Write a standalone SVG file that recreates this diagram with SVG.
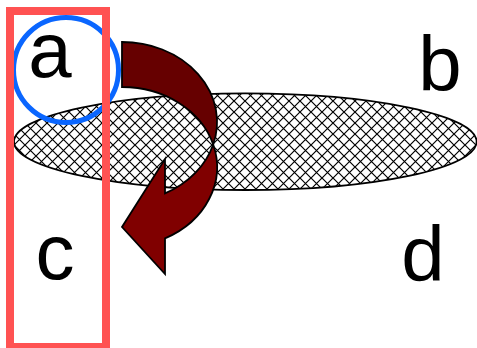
<svg xmlns="http://www.w3.org/2000/svg" width="477" height="348" viewBox="0 0 477 348">
  <defs>
    <pattern id="hatch" patternUnits="userSpaceOnUse" width="11" height="11" x="3" y="2">
      <rect width="11" height="11" fill="#ffffff"/>
      <path d="M0,0 L11,11 M11,0 L0,11" stroke="#000" stroke-width="1.2"/>
    </pattern>
  </defs>
  <style>
    .lbl { font-family: "Liberation Sans", Arial, sans-serif; font-size: 78px; fill: #000; text-anchor: middle; }
    .outline { stroke: #000; stroke-width: 1.8; stroke-linejoin: miter; }
  </style>
  <rect width="477" height="348" fill="#fff"/>

  <g id="node-ellipse">
    <ellipse cx="245.3" cy="141.7" rx="231.3" ry="48.3" fill="url(#hatch)" class="outline"/>
  </g>

  <g id="node-arrow">
    <path d="M122,42 A95,80 0 0 1 213.2,144.5 A95,80 0 0 0 122,87 Z" fill="#660000" class="outline"/>
    <path d="M213.2,144.5 A95,80 0 0 1 165,238.4 L165,274 L122,227 L165,159 L165,193.4 A95,80 0 0 0 213.2,144.5 Z" fill="#800000" class="outline"/>
  </g>

  <g id="node-circle">
    <circle cx="66" cy="70" r="52.5" fill="none" stroke="#0a66ff" stroke-width="5"/>
  </g>

  <g id="node-rect">
    <rect x="10" y="11" width="96" height="336" fill="none" stroke="#ff5252" stroke-width="8"/>
  </g>

  <g id="label-a"><text class="lbl" x="50" y="77">a</text></g>
  <g id="label-b"><text class="lbl" x="440" y="91">b</text></g>
  <g id="label-c"><text class="lbl" x="55" y="279">c</text></g>
  <g id="label-d"><text class="lbl" x="423" y="281">d</text></g>
</svg>
